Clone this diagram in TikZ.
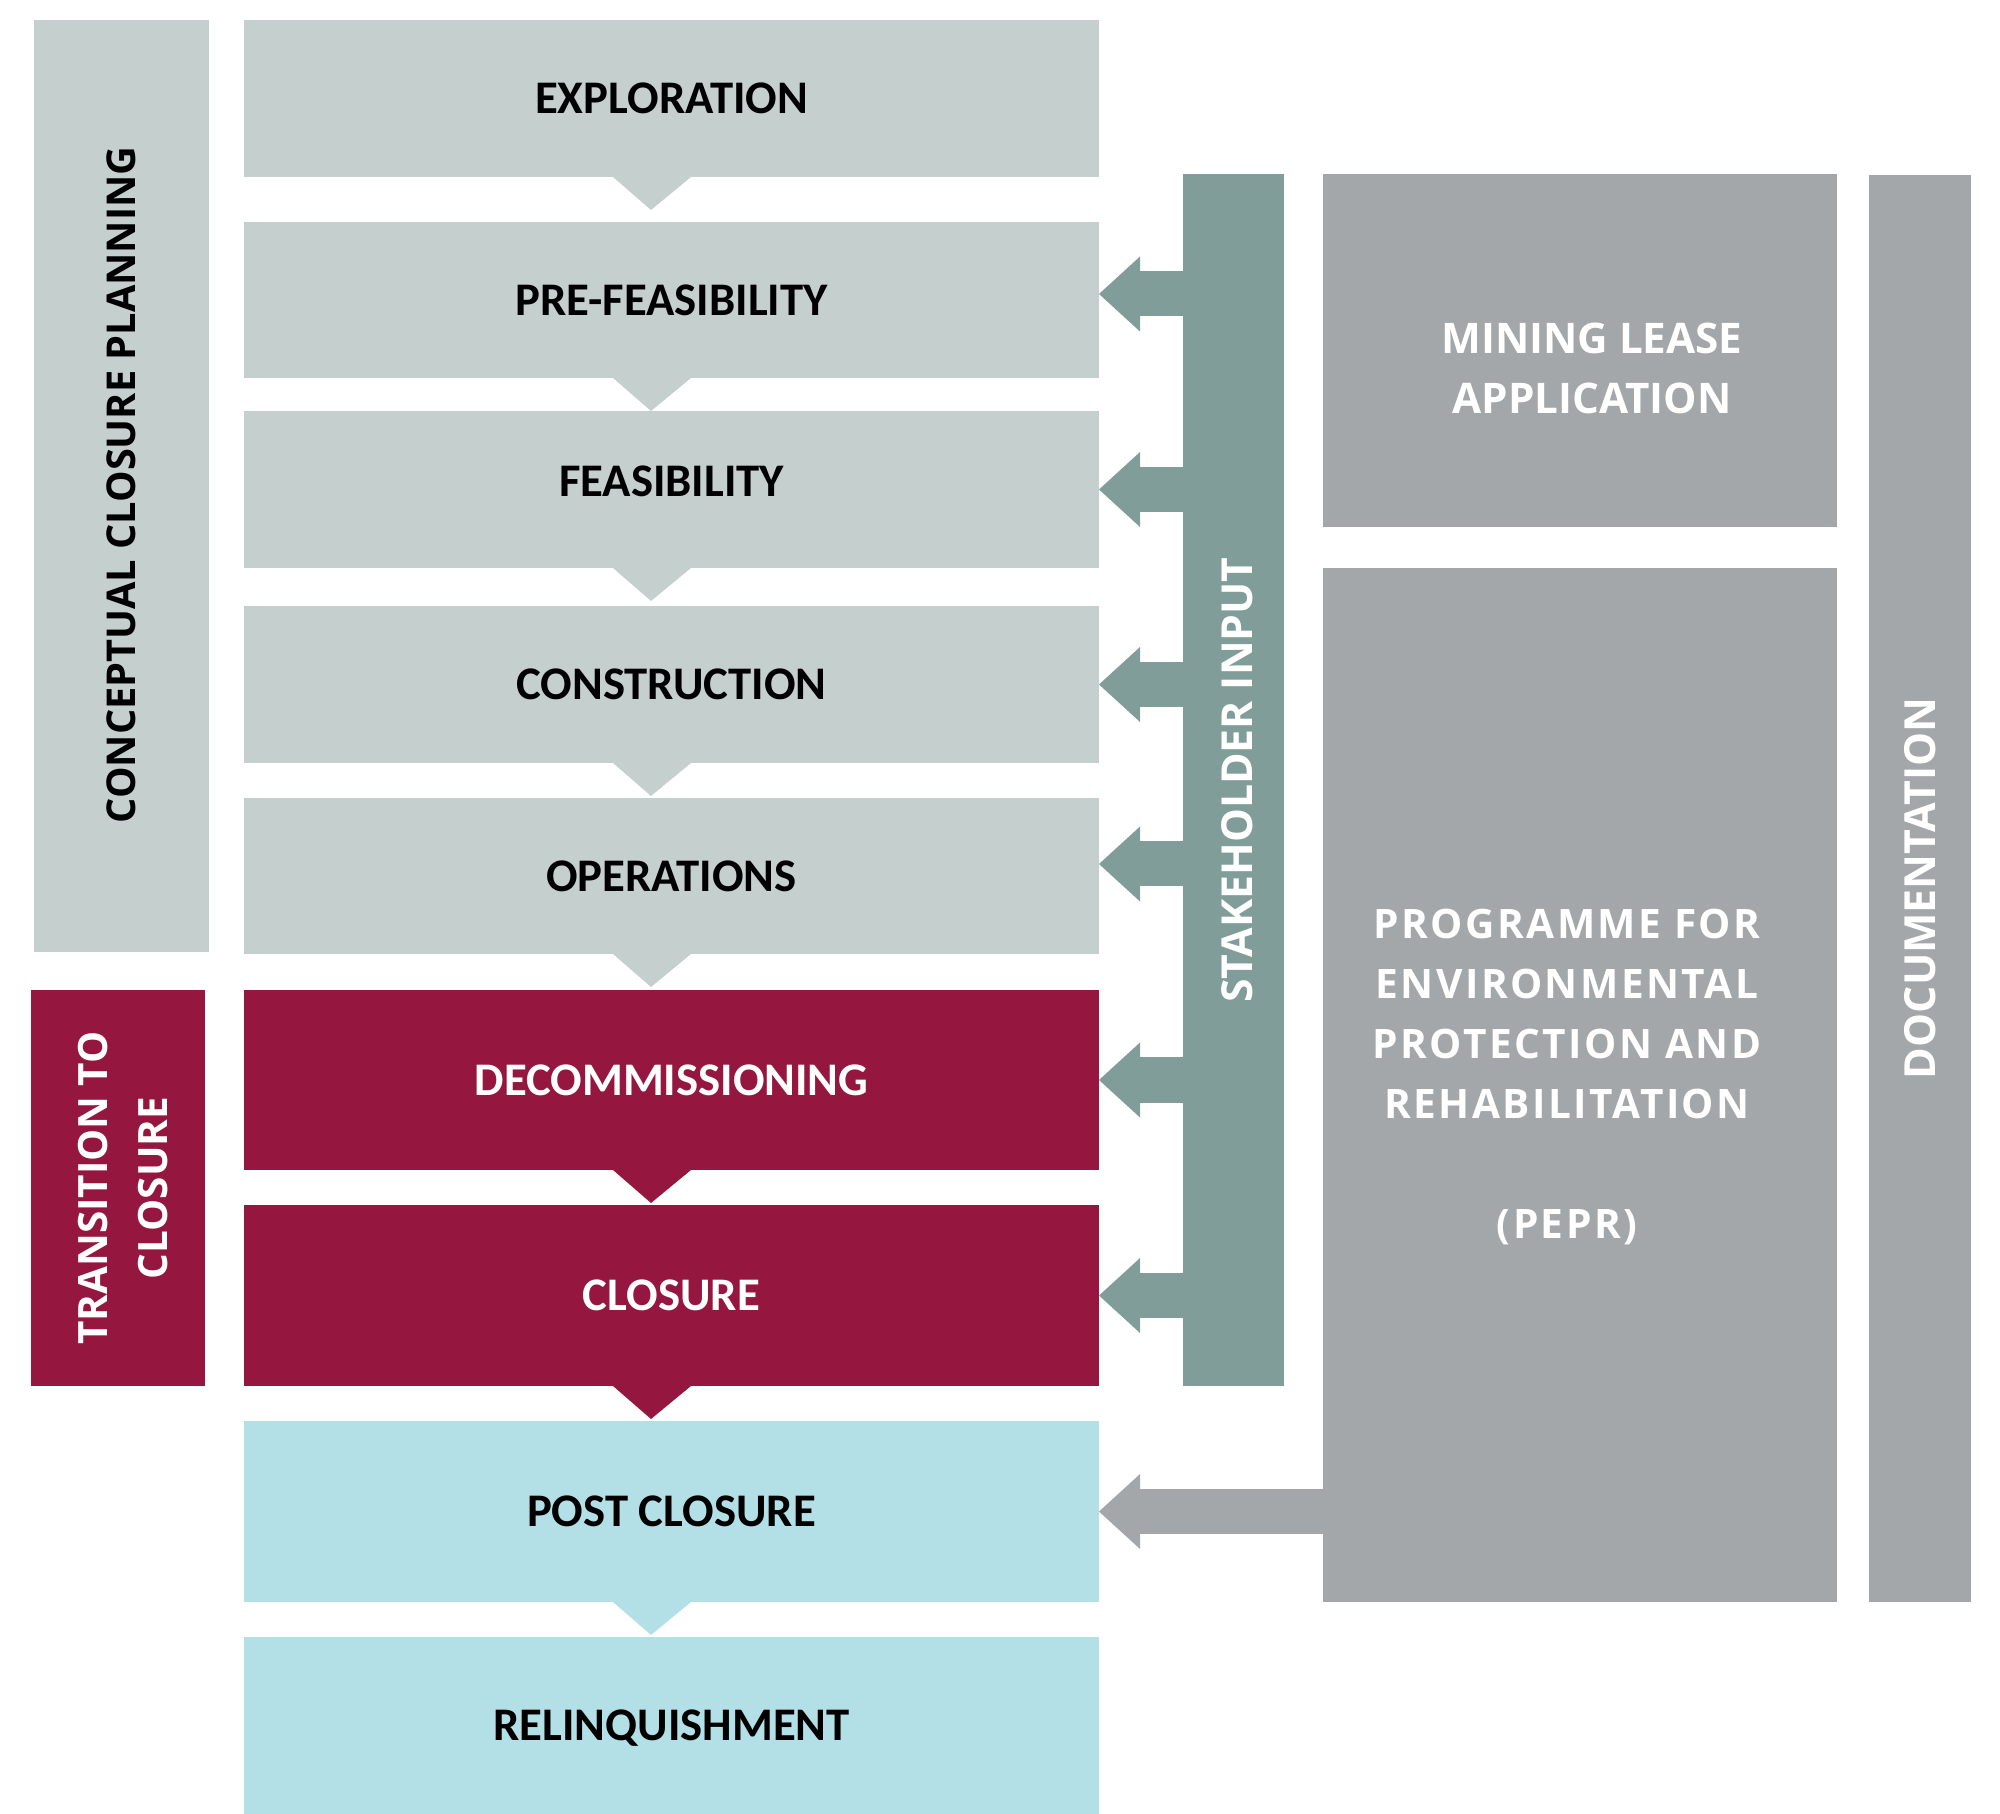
\documentclass[tikz,border=0pt]{standalone}
\usepackage{fontspec}
\setmainfont{Carlito}
\newfontfamily\sidefont{Open Sans}
\newfontfamily\sidewidefont[LetterSpace=6]{Open Sans}
\usetikzlibrary{arrows.meta, positioning}

\definecolor{phasegrey}{RGB}{197,207,206}
\definecolor{phasered}{RGB}{149,23,63}
\definecolor{phaseblue}{RGB}{179,223,230}
\definecolor{stakegreen}{RGB}{129,157,153}
\definecolor{docgrey}{RGB}{163,167,170}

\begin{document}
\begin{tikzpicture}[
    phase/.style={rectangle, fill=#1, inner sep=0pt, outer sep=0pt,
                  minimum width=8.55cm, minimum height=1.57cm, text depth=0pt,
                  font=\fontsize{13.3}{16}\selectfont\bfseries},
    bar/.style={rectangle, fill=#1, inner sep=0pt, outer sep=0pt, anchor=north west},
    sidetext/.style={font=\sidefont\bfseries\fontsize{12}{17.1}\selectfont,
                     text=white, align=center, inner sep=0pt},
    stakearrow/.style={draw=#1, line width=4.5mm,
                       -{Triangle[width=7.5mm, length=4.1mm, line width=0pt]}}]

  \useasboundingbox (0,0) rectangle (20,-18.14);

  % Phases, stacked from top to bottom:
  \node[phase=phasegrey] (expl) at (6.715,-0.985) {EXPLORATION};
  \node[phase=phasegrey, below=0.45cm of expl, minimum height=1.56cm] (pref) {PRE-FEASIBILITY};
  \node[phase=phasegrey, below=0.33cm of pref, text depth=1.6mm] (feas) {FEASIBILITY};
  \node[phase=phasegrey, below=0.38cm of feas] (cons) {CONSTRUCTION};
  \node[phase=phasegrey, below=0.35cm of cons, minimum height=1.56cm] (oper) {OPERATIONS};
  \node[phase=phasered, below=0.36cm of oper, minimum height=1.80cm, text=white] (deco) {DECOMMISSIONING};
  \node[phase=phasered, below=0.35cm of deco, minimum height=1.81cm, text=white] (clos) {CLOSURE};
  \node[phase=phaseblue, below=0.35cm of clos, minimum height=1.81cm] (post) {POST CLOSURE};
  \node[phase=phaseblue, below=0.35cm of post, minimum height=1.77cm] (reli) {RELINQUISHMENT};

  % Notches under the phases
  \foreach \a/\c in {expl/phasegrey, pref/phasegrey, feas/phasegrey, cons/phasegrey,
                     oper/phasegrey, deco/phasered, clos/phasered, post/phaseblue}
    \fill[\c] ([xshift=-5.85mm]\a.south) -- ([xshift=-2.05mm, yshift=-3.3mm]\a.south)
              -- ([xshift=1.95mm]\a.south) -- cycle;

  % Bars at the sides
  \node[bar=phasegrey, minimum width=1.75cm, minimum height=9.32cm] (cbar) at (0.34,-0.20) {};
  \node[bar=phasered, minimum width=1.74cm, minimum height=3.96cm] (tbar) at (0.31,-9.90) {};
  \node[bar=stakegreen, minimum width=1.01cm, minimum height=12.12cm] (sh) at (11.83,-1.74) {};
  \node[bar=docgrey, minimum width=5.14cm, minimum height=3.53cm] (mla) at (13.23,-1.74) {};
  \node[bar=docgrey, minimum width=5.14cm, minimum height=10.34cm] (pepr) at (13.23,-5.68) {};
  \node[bar=docgrey, minimum width=1.02cm, minimum height=14.27cm] (doc) at (18.69,-1.75) {};

  % Texts on the bars
  \node[sidetext, text=black, rotate=90, font=\sidefont\bfseries\fontsize{11.3}{17.1}\selectfont]
        (cbartext) at ([yshift=0.1mm]cbar.center) {CONCEPTUAL CLOSURE PLANNING};
  \node[sidetext, rotate=90, font=\sidefont\bfseries\fontsize{11.5}{17.1}\selectfont]
        (tbartext) at ([xshift=0.5mm]tbar.center) {TRANSITION TO\\CLOSURE};
  \node[sidetext, rotate=90, font=\sidefont\bfseries\fontsize{12.15}{17.1}\selectfont]
        (shtext) at ([xshift=0.4mm]sh.center) {STAKEHOLDER INPUT};
  \node[sidetext, rotate=90, font=\sidefont\bfseries\fontsize{12.2}{17.1}\selectfont]
        (doctext) at (doc.center) {DOCUMENTATION};
  \node[sidetext] (mlatext) at ([xshift=1.2mm, yshift=-1.8mm]mla.center)
        {MINING LEASE\\APPLICATION};
  \node[sidetext, font=\sidewidefont\bfseries\fontsize{11.55}{17.1}\selectfont]
        (peprtext) at ([xshift=-1.3mm, yshift=0.8mm]pepr.center)
        {PROGRAMME FOR\\ENVIRONMENTAL\\PROTECTION AND\\REHABILITATION\\[17.1pt](PEPR)};

  % Arrows into the phases
  \foreach \n/\s in {pref/0.6, feas/0, cons/0, oper/1.2, deco/0, clos/0} {
    \coordinate (tip-\n) at ([yshift=\s mm]\n.east);
    \draw[stakearrow=stakegreen] (sh.west |- tip-\n) -- (tip-\n);
  }
  \draw[stakearrow=docgrey] (pepr.west |- post.east) -- (post.east);

\end{tikzpicture}
\end{document}
